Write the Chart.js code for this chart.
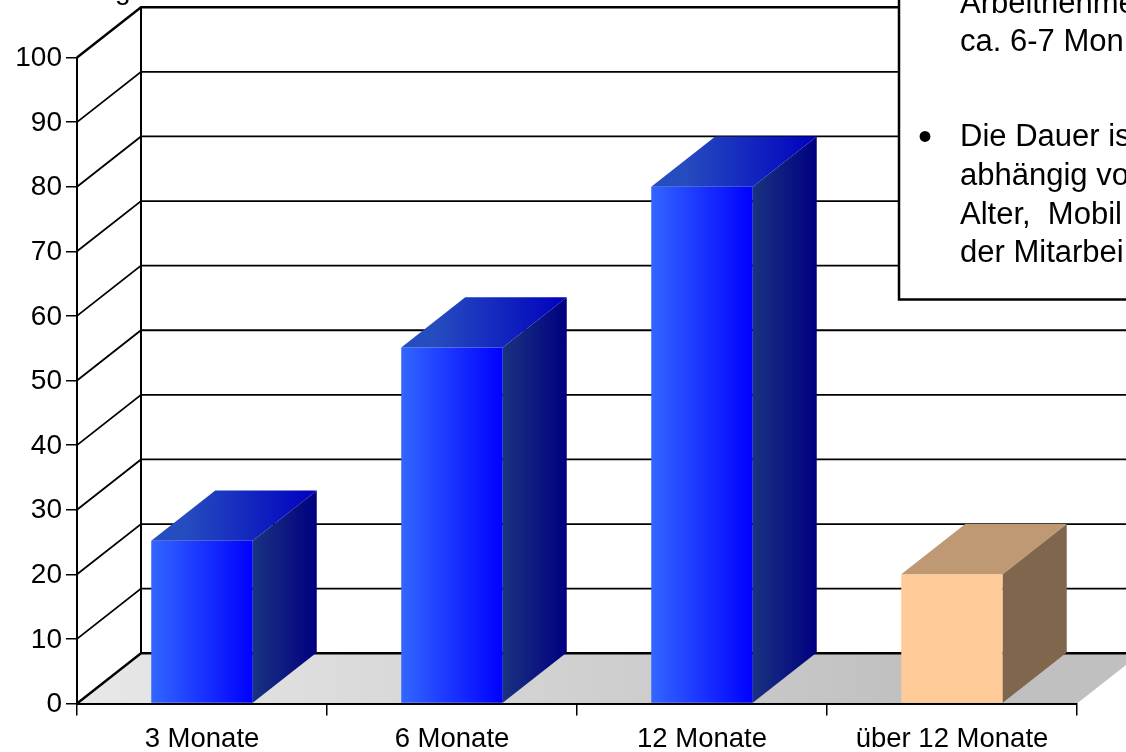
<!DOCTYPE html>
<html><head><meta charset="utf-8">
<style>html,body{margin:0;padding:0;background:#fff;overflow:hidden}canvas{display:block}</style>
<script src="https://cdn.jsdelivr.net/npm/chart.js@4"></script>
</head><body><canvas id="c" width="1126" height="752"></canvas>
<script>
const categories = ["3 Monate", "6 Monate", "12 Monate", "über 12 Monate"];
const values = [25.2, 55.1, 80, 20];
const frontLeft = ["#3366ff", "#3366ff", "#3366ff", "#ffcc99"];
const frontRight = ["#0000ff", "#0000ff", "#0000ff", "#ffcc99"];
const topLeft = ["#264dbf", "#264dbf", "#264dbf", "#bf9973"];
const topRight = ["#0000bf", "#0000bf", "#0000bf", "#bf9973"];
const sideLeft = ["#1a3380", "#1a3380", "#1a3380", "#80664d"];
const sideRight = ["#000080", "#000080", "#000080", "#80664d"];
const boxLines = [
  ["Arbeitnehme", 960, 13], ["ca. 6-7 Mon", 960, 51], ["Die Dauer is", 960, 146],
  ["abhängig vo", 960, 185], ["Alter,  Mobil", 960, 224], ["der Mitarbei", 960, 262]
];
const DX = 64, DY = -50.25;
const FAMILY = '"Liberation Sans", Arial, sans-serif';

function hGrad(ctx, x0, x1, a, b) {
  const g = ctx.createLinearGradient(x0, 0, x1, 0);
  g.addColorStop(0, a); g.addColorStop(1, b);
  return g;
}
const scene = {
  id: "scene",
  beforeDatasetsDraw(chart) {
    const { ctx, scales: { x, y } } = chart;
    const x0 = x.left, x1 = x.right, y0 = y.getPixelForValue(0), yTop = y.getPixelForValue(100);
    ctx.save();
    ctx.fillStyle = hGrad(ctx, x0, x1 * 0.85, "#e8e8e8", "#c0c0c0");
    ctx.beginPath();
    ctx.moveTo(x0, y0); ctx.lineTo(x1, y0); ctx.lineTo(x1 + DX, y0 + DY); ctx.lineTo(x0 + DX, y0 + DY);
    ctx.closePath(); ctx.fill();
    ctx.strokeStyle = "#000";
    y.ticks.forEach(t => {
      const p = y.getPixelForValue(t.value);
      const edge = t.value === 0 || t.value === 100;
      ctx.lineWidth = edge ? 2.4 : 1.8;
      ctx.beginPath();
      ctx.moveTo(x0, p); ctx.lineTo(x0 + DX, p + DY); ctx.lineTo(x1 + DX, p + DY);
      ctx.stroke();
    });
    ctx.lineWidth = 2;
    ctx.beginPath();
    ctx.moveTo(x0 + DX, y0 + DY); ctx.lineTo(x0 + DX, yTop + DY);
    ctx.stroke();
    ctx.restore();
  },
  afterDatasetsDraw(chart) {
    const { ctx } = chart;
    const els = chart.getDatasetMeta(0).data;
    ctx.save();
    els.forEach((b, i) => {
      const l = b.x - b.width / 2, r = b.x + b.width / 2, t = b.y, bt = b.base;
      ctx.fillStyle = hGrad(ctx, l + DX * 0.5, r + DX, topLeft[i], topRight[i]);
      ctx.beginPath();
      ctx.moveTo(l, t); ctx.lineTo(r, t); ctx.lineTo(r + DX, t + DY); ctx.lineTo(l + DX, t + DY);
      ctx.closePath(); ctx.fill();
      ctx.fillStyle = hGrad(ctx, r, r + DX, sideLeft[i], sideRight[i]);
      ctx.beginPath();
      ctx.moveTo(r, t); ctx.lineTo(r + DX, t + DY); ctx.lineTo(r + DX, bt + DY); ctx.lineTo(r, bt);
      ctx.closePath(); ctx.fill();
    });
    ctx.restore();
  },
  afterDraw(chart) {
    const { ctx } = chart;
    ctx.save();
    ctx.fillStyle = "#fff"; ctx.strokeStyle = "#000"; ctx.lineWidth = 2.5;
    ctx.fillRect(899, -10, 260, 309.5);
    ctx.strokeRect(899, -10, 260, 309.5);
    ctx.fillStyle = "#000";
    ctx.font = "31px " + FAMILY;
    ctx.textBaseline = "alphabetic"; ctx.textAlign = "left";
    boxLines.forEach(([s, px, py]) => ctx.fillText(s, px, py));
    ctx.font = "40px " + FAMILY;
    ctx.fillText("•", 918, 150);
    ctx.font = "28px " + FAMILY;
    ctx.fillText("g", 115, -1);
    ctx.restore();
  }
};
new Chart(document.getElementById("c"), {
  type: "bar",
  data: {
    labels: categories,
    datasets: [{
      data: values,
      categoryPercentage: 1,
      barPercentage: 0.406,
      backgroundColor(c) {
        if (c.type !== "data") return frontLeft[0];
        const w = 101.5, m = c.chart.scales.x.getPixelForValue(c.dataIndex);
        if (!c.chart.chartArea || !Number.isFinite(m)) return frontLeft[c.dataIndex];
        return hGrad(c.chart.ctx, m - w / 2, m + w / 2, frontLeft[c.dataIndex], frontRight[c.dataIndex]);
      }
    }]
  },
  options: {
    responsive: false,
    animation: false,
    layout: { padding: { top: 57.5, right: 49, left: 0, bottom: 0 } },
    plugins: { legend: { display: false }, title: { display: false }, tooltip: { enabled: false } },
    scales: {
      x: {
        afterFit(s) { s.height = 48.5; },
        grid: { drawOnChartArea: false, color: "#000", tickLength: 12, lineWidth: 1.5 },
        border: { color: "#000", width: 2, z: 1 },
        ticks: { color: "#000", font: { family: FAMILY, size: 27.5 }, padding: 7, maxRotation: 0 }
      },
      y: {
        min: 0, max: 100,
        afterFit(s) { s.width = 77; },
        grid: { drawOnChartArea: false, color: "#000", tickLength: 11, lineWidth: 1.5 },
        border: { color: "#000", width: 2, z: 1 },
        ticks: { stepSize: 10, color: "#000", font: { family: FAMILY, size: 28 }, padding: 4, labelOffset: 1 }
      }
    }
  },
  plugins: [scene]
});
</script></body></html>
